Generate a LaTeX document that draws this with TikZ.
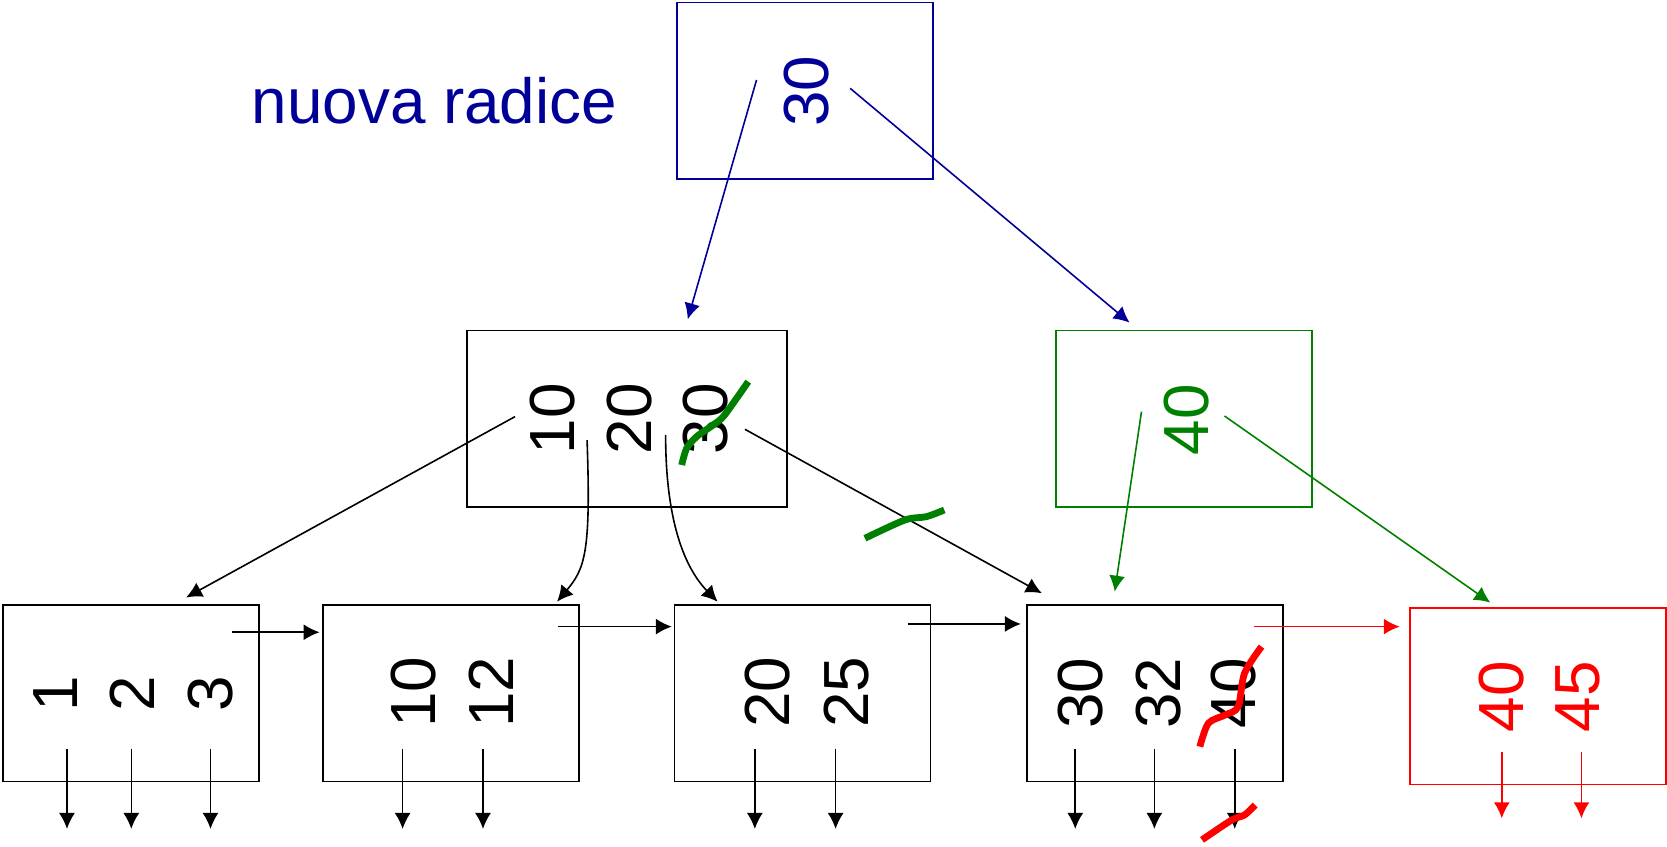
\documentclass[tikz,border=0pt]{standalone}
\usepackage{fontspec}
\setmainfont{Liberation Sans}
\usetikzlibrary{positioning, arrows.meta, calc}
\definecolor{btreeBlue}{HTML}{000099}
\definecolor{btreeGreen}{HTML}{008000}
\definecolor{btreeRed}{HTML}{FF0000}

\begin{document}
\begin{tikzpicture}[
        x=0.5pt, y=-0.5pt,
        font=\fontsize{30}{36}\selectfont,
        box/.style={
          rectangle, draw, line width=0.75pt, inner sep=0pt,
          minimum width=120.4pt, minimum height=83.1pt
        },
        key/.style={rotate=90, inner sep=0pt},
        edge/.style={-{Latex[length=7.5pt, width=7.5pt]}, line width=0.75pt},
        strike/.style={line width=3.2pt}
      ]
      \useasboundingbox (0,0) rectangle (1568,796);

      % --- RADICE ---
      \node[box, draw=btreeBlue] (root) at (757,85.5) {};
      \node[key, text=btreeBlue] (r30) at (759,86) {30};
      \node[text=btreeBlue, anchor=base] (label) at (408.6,116.6) {nuova radice};

      % --- LIVELLO INTERMEDIO ---
      \node[box, minimum width=150.5pt] (inner) at (589.8,393.8) {};
      \node[key] (i10) at (519.7,394) {10};
      \node[key] (i20) at (591.8,394) {20};
      \node[key] (i30) at (663.9,394) {30};

      \node[box, draw=btreeGreen] (split) at (1113.8,394) {};
      \node[key, text=btreeGreen] (s40) at (1116.2,395) {40};

      % --- FOGLIE ---
      \node[box] (leafA) at (123.3,652) {};
      \node[key] (a1) at (52.2,653) {1};
      \node[key] (a2) at (124.2,653) {2};
      \node[key] (a3) at (198,653) {3};

      \node[box] (leafB) at (424,652) {};
      \node[key] (b10) at (388.8,651) {10};
      \node[key] (b12) at (462.5,651) {12};

      \node[box] (leafC) at (755,652) {};
      \node[key] (c20) at (722,651) {20};
      \node[key] (c25) at (796,651) {25};

      \node[box] (leafD) at (1086.3,652) {};
      \node[key] (d30) at (1016.5,652) {30};
      \node[key] (d32) at (1089.5,652) {32};
      \node[key] (d40) at (1160.6,652) {40};

      \node[box, draw=btreeRed] (leafE) at (1446.6,654.8) {};
      \node[key, text=btreeRed] (e40) at (1412.6,655.3) {40};
      \node[key, text=btreeRed] (e45) at (1484.6,655.3) {45};

      % --- PUNTATORI ---
      \coordinate (rootL) at (711.6,75.2);  \coordinate (innerTop) at (646.9,300.3);
      \coordinate (rootR) at (799.7,83.1);  \coordinate (splitTop) at (1062.5,303.5);
      \coordinate (innerP0) at (484.4,391.9); \coordinate (leafATop) at (175,562);
      \coordinate (innerP1) at (552.2,414);   \coordinate (leafBTop) at (524,566);
      \coordinate (innerP2) at (626.1,409);   \coordinate (leafCTop) at (675,566);
      \coordinate (innerP3) at (700.7,403.8); \coordinate (leafDTop) at (980,558);
      \coordinate (splitP0) at (1073.7,387.2); \coordinate (leafDIn) at (1048.5,556.5);
      \coordinate (splitP1) at (1151.8,391.3); \coordinate (leafETop) at (1401.8,566.8);

      \draw[edge, btreeBlue] (rootL) -- (innerTop);
      \draw[edge, btreeBlue] (rootR) -- (splitTop);

      \draw[edge] (innerP0) -- (leafATop);
      \draw[edge] (innerP1) .. controls (556,520) and (550,535) .. (leafBTop);
      \draw[edge] (innerP2) .. controls (626,480) and (640,530) .. (leafCTop);
      \draw[edge] (innerP3) -- (leafDTop);

      \draw[edge, btreeGreen] (splitP0) -- (leafDIn);
      \draw[edge, btreeGreen] (splitP1) -- (leafETop);

      % --- CATENA DELLE FOGLIE ---
      \coordinate (nextA) at (218.5,594.7); \coordinate (prevB) at (300.6,594.7);
      \coordinate (nextB) at (524.7,589.4); \coordinate (prevC) at (631.9,589.4);
      \coordinate (nextC) at (853.6,586.9); \coordinate (prevD) at (960.3,586.9);
      \coordinate (nextD) at (1179.4,589.4); \coordinate (prevE) at (1316.6,589.4);

      \draw[edge] (nextA) -- (prevB);
      \draw[edge] (nextB) -- (prevC);
      \draw[edge] (nextC) -- (prevD);
      \draw[edge, btreeRed] (nextD) -- (prevE);

      % --- PUNTATORI AI DATI ---
      \foreach \x [count=\i] in {63,123.5,198,378.7,454.3,710,786,1011.4,1085.8,1161.4} {
        \coordinate (dataS\i) at (\x,704.8);
        \coordinate (dataE\i) at (\x,779.7);
        \draw[edge] (dataS\i) -- (dataE\i);
      }
      \foreach \x [count=\i] in {1412.6,1487.5} {
        \coordinate (redS\i) at (\x,707.6);
        \coordinate (redE\i) at (\x,769.7);
        \draw[edge, btreeRed] (redS\i) -- (redE\i);
      }

      % --- CANCELLATURE ---
      \draw[strike, btreeGreen] plot[smooth] coordinates
        {(641.2,437.4) (645.9,421.7) (655.3,410.7) (670.9,399.7) (680.3,391.9) (692.9,374.6) (703.8,359)};
      \draw[strike, btreeGreen] plot[smooth] coordinates
        {(813.6,506.3) (851.2,489.1) (871.3,486) (888.2,479.7)};
      \draw[strike, btreeRed] plot[smooth] coordinates
        {(1128.6,702.3) (1136.6,680.3) (1152.5,672.5) (1164.6,664.7) (1170.6,633.3) (1186.6,608.2)};
      \draw[strike, btreeRed] plot[smooth] coordinates
        {(1130.6,790) (1158.6,771.3) (1170.6,766.6) (1180.6,757.2)};

    \end{tikzpicture}
\end{document}
